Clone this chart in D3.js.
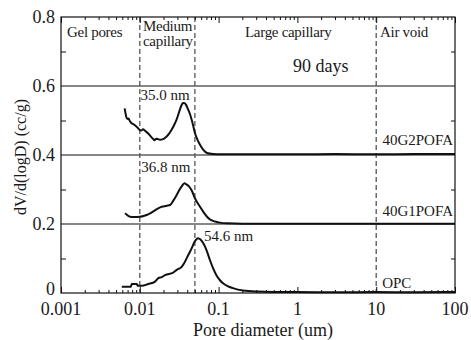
<!DOCTYPE html>
<html>
<head>
<meta charset="utf-8">
<script src="https://cdn.jsdelivr.net/npm/d3@7"></script>
<style>
  body { margin: 0; background: #fff; }
</style>
</head>
<body>
<div id="chart"></div>
<script>
// ---- data (dV/d(logD) in cc/g vs pore diameter in um) ----
const seriesNames = ['40G2POFA', '40G1POFA', 'OPC'];
const seriesOffsets = [0.4, 0.2, 0];
const peakLabels = ['35.0 nm', '36.8 nm', '54.6 nm'];
const peakDiam = [0.035, 0.0368, 0.0546];

const g2Diam = [0.00643, 0.0066, 0.00674, 0.007, 0.0072, 0.00744, 0.0078, 0.0082, 0.00861, 0.009,
  0.00949, 0.01, 0.01045, 0.011, 0.01154, 0.0121, 0.01271, 0.0133, 0.014, 0.0147, 0.01545, 0.0162,
  0.01702, 0.018, 0.01968, 0.0212, 0.0228, 0.0251, 0.027, 0.0291, 0.0321, 0.0335, 0.035, 0.0365,
  0.0385, 0.041, 0.0434, 0.047, 0.0502, 0.054, 0.0581, 0.064, 0.0713, 0.085, 0.11, 0.2, 0.5, 1, 3, 10, 30, 100];
const g2Vals = [0.135, 0.12, 0.11, 0.104, 0.106, 0.099, 0.093, 0.09, 0.087, 0.083,
  0.078, 0.072, 0.071, 0.075, 0.071, 0.067, 0.063, 0.058, 0.052, 0.047, 0.043, 0.047,
  0.046, 0.044, 0.046, 0.051, 0.058, 0.072, 0.085, 0.101, 0.13, 0.142, 0.15, 0.151,
  0.146, 0.132, 0.118, 0.09, 0.063, 0.044, 0.03, 0.015, 0.006, 0.003, 0.002, 0.002, 0.002, 0.002, 0.003, 0.002, 0.003, 0.003];

const g1Diam = [0.0065, 0.007, 0.0075, 0.0085, 0.01, 0.0112, 0.0122, 0.0135, 0.0147, 0.0165, 0.0185,
  0.02, 0.022, 0.0242, 0.0265, 0.0294, 0.032, 0.034, 0.0368, 0.0394, 0.042, 0.0456, 0.05, 0.0527,
  0.0581, 0.064, 0.0713, 0.078, 0.085, 0.095, 0.1042, 0.13, 0.2, 0.5, 1, 10, 100];
const g1Vals = [0.031, 0.025, 0.021, 0.02, 0.021, 0.023, 0.026, 0.031, 0.036, 0.043, 0.049,
  0.051, 0.053, 0.055, 0.067, 0.084, 0.1, 0.109, 0.118, 0.114, 0.109, 0.097, 0.075, 0.065,
  0.05, 0.035, 0.021, 0.013, 0.009, 0.006, 0.004, 0.002, 0.001, 0.001, 0.001, 0.001, 0.001];

const opcDiam = [0.0059, 0.0077, 0.0079, 0.0092, 0.0094, 0.0106, 0.0128, 0.0156, 0.0172, 0.019, 0.0209,
  0.0265, 0.0294, 0.034, 0.0365, 0.0394, 0.0425, 0.0456, 0.05, 0.0546, 0.059, 0.064, 0.07, 0.0778,
  0.085, 0.0946, 0.104, 0.1138, 0.13, 0.152, 0.204, 0.307, 0.5, 1, 3, 10, 30, 100];
const opcVals = [0.018, 0.018, 0.026, 0.026, 0.021, 0.021, 0.026, 0.033, 0.043, 0.046, 0.052,
  0.059, 0.067, 0.076, 0.086, 0.101, 0.116, 0.13, 0.15, 0.159, 0.155, 0.144, 0.125, 0.095,
  0.072, 0.05, 0.037, 0.028, 0.02, 0.014, 0.007, 0.004, 0.003, 0.003, 0.002, 0.003, 0.002, 0.003];

const xTicks = [0.001, 0.01, 0.1, 1, 10, 100];
const xTickLabels = ['0.001', '0.01', '0.1', '1', '10', '100'];
const yTicks = [0, 0.2, 0.4, 0.6, 0.8];
const yTickLabels = ['0', '0.2', '0.4', '0.6', '0.8'];
const baseLines = [0.2, 0.4, 0.6];
const boundaries = [0.01, 0.05, 10];

// ---- layout ----
const width = 471, height = 340;
const plotLeft = 61, plotRight = 455, plotTop = 17, plotBottom = 293;

const svg = d3.select('#chart').append('svg')
  .attr('width', width).attr('height', height)
  .style('font-family', '"Liberation Serif", "DejaVu Serif", "Times New Roman", serif');

const x = d3.scaleLog().domain([0.001, 100]).range([plotLeft, plotRight]);
const y = d3.scaleLinear().domain([0, 0.8]).range([plotBottom, plotTop]);

// minor ticks 2..9 per decade
const minorX = [];
xTicks.slice(0, -1).forEach(t => { for (let k = 2; k <= 9; k++) minorX.push(t * k); });
const minorY = [0.1, 0.3, 0.5, 0.7];

// baseline lines
svg.append('g').selectAll('line').data(baseLines).enter().append('line')
  .attr('x1', plotLeft).attr('x2', plotRight)
  .attr('y1', d => y(d)).attr('y2', d => y(d))
  .attr('stroke', '#111').attr('stroke-width', 1.1);

// dashed region boundaries
svg.append('g').selectAll('line').data(boundaries).enter().append('line')
  .attr('x1', d => x(d)).attr('x2', d => x(d))
  .attr('y1', plotTop).attr('y2', plotBottom)
  .attr('stroke', '#555').attr('stroke-width', 1.3)
  .attr('stroke-dasharray', '5,3');

// curves
const seriesData = [
  g2Diam.map((d, i) => [d, g2Vals[i]]),
  g1Diam.map((d, i) => [d, g1Vals[i]]),
  opcDiam.map((d, i) => [d, opcVals[i]])
];
seriesData.forEach((data, s) => {
  const line = d3.line()
    .x(d => x(d[0]))
    .y(d => y(d[1] + seriesOffsets[s]))
    .curve(d3.curveMonotoneX);
  svg.append('path')
    .datum(data)
    .attr('fill', 'none')
    .attr('stroke', '#111')
    .attr('stroke-width', 2)
    .attr('stroke-linejoin', 'round')
    .attr('d', line);
});

// axes (ticks inward on all four sides)
function noDomain(g) { g.select('.domain').remove(); }
svg.append('g').attr('transform', 'translate(0,' + plotBottom + ')')
  .call(d3.axisBottom(x).tickValues(minorX).tickSize(-3).tickFormat(() => ''))
  .call(noDomain);
svg.append('g').attr('transform', 'translate(0,' + plotBottom + ')')
  .call(d3.axisBottom(x).tickValues(xTicks).tickSize(-6).tickFormat(() => ''))
  .call(noDomain);
svg.append('g').attr('transform', 'translate(0,' + plotTop + ')')
  .call(d3.axisTop(x).tickValues(minorX).tickSize(-3).tickFormat(() => ''))
  .call(noDomain);
svg.append('g').attr('transform', 'translate(0,' + plotTop + ')')
  .call(d3.axisTop(x).tickValues(xTicks).tickSize(-6).tickFormat(() => ''))
  .call(noDomain);
svg.append('g').attr('transform', 'translate(' + plotLeft + ',0)')
  .call(d3.axisLeft(y).tickValues(minorY).tickSize(-5).tickFormat(() => ''))
  .call(noDomain);
svg.append('g').attr('transform', 'translate(' + plotRight + ',0)')
  .call(d3.axisRight(y).tickValues(minorY).tickSize(-4).tickFormat(() => ''))
  .call(noDomain);
svg.selectAll('.tick line').attr('stroke', '#111').attr('stroke-width', 1);
svg.selectAll('.tick text').remove();

// frame
svg.append('rect')
  .attr('x', plotLeft).attr('y', plotTop)
  .attr('width', plotRight - plotLeft).attr('height', plotBottom - plotTop)
  .attr('fill', 'none').attr('stroke', '#111').attr('stroke-width', 1.2);

const ink = '#1a1a1a';

// tick labels
svg.append('g').selectAll('text').data(xTicks).enter().append('text')
  .attr('x', d => x(d)).attr('y', plotBottom + 22)
  .attr('text-anchor', 'middle').attr('font-size', 18).attr('fill', ink)
  .text((d, i) => xTickLabels[i]);
svg.append('g').selectAll('text').data(yTicks).enter().append('text')
  .attr('x', plotLeft - 6).attr('y', d => y(d))
  .attr('dy', d => d === 0 ? '0.1em' : '0.33em')
  .attr('text-anchor', 'end').attr('font-size', 18).attr('fill', ink)
  .text((d, i) => yTickLabels[i]);

// axis titles
svg.append('text')
  .attr('x', (plotLeft + plotRight) / 2 + 5).attr('y', 336)
  .attr('text-anchor', 'middle').attr('font-size', 18).attr('fill', ink)
  .text('Pore diameter (um)');
svg.append('text')
  .attr('transform', 'translate(26,' + ((plotTop + plotBottom) / 2 + 2) + ') rotate(-90)')
  .attr('text-anchor', 'middle').attr('font-size', 16).attr('fill', ink)
  .text('dV/d(logD) (cc/g)');

// region labels
const regionText = [
  ['Gel pores', 67, 37], ['Medium', 143, 31], ['capillary', 143, 46],
  ['Large capillary', 245, 37], ['Air void', 380, 37]
];
svg.append('g').selectAll('text').data(regionText).enter().append('text')
  .attr('x', d => d[1]).attr('y', d => d[2])
  .attr('font-size', 15).attr('letter-spacing', -0.3).attr('fill', ink)
  .text(d => d[0]);
svg.append('text').attr('x', 293).attr('y', 72)
  .attr('font-size', 18).attr('fill', ink).text('90 days');

// peak labels
svg.append('text').attr('x', x(peakDiam[0]) + 7).attr('y', y(0.559))
  .attr('text-anchor', 'end').attr('font-size', 15).attr('fill', ink).text(peakLabels[0]);
svg.append('text').attr('x', x(peakDiam[1]) + 6).attr('y', y(0.351))
  .attr('text-anchor', 'end').attr('font-size', 15).attr('fill', ink).text(peakLabels[1]);
svg.append('text').attr('x', x(peakDiam[2]) + 6).attr('y', y(0.151))
  .attr('font-size', 15).attr('fill', ink).text(peakLabels[2]);

// series labels
svg.append('text').attr('x', plotRight - 2).attr('y', y(0.4) - 10)
  .attr('text-anchor', 'end').attr('font-size', 15).attr('fill', ink).text(seriesNames[0]);
svg.append('text').attr('x', plotRight - 2).attr('y', y(0.2) - 8)
  .attr('text-anchor', 'end').attr('font-size', 15).attr('fill', ink).text(seriesNames[1]);
svg.append('text').attr('x', x(10) + 6).attr('y', y(0) - 5)
  .attr('font-size', 15).attr('fill', ink).text(seriesNames[2]);
</script>
</body>
</html>
